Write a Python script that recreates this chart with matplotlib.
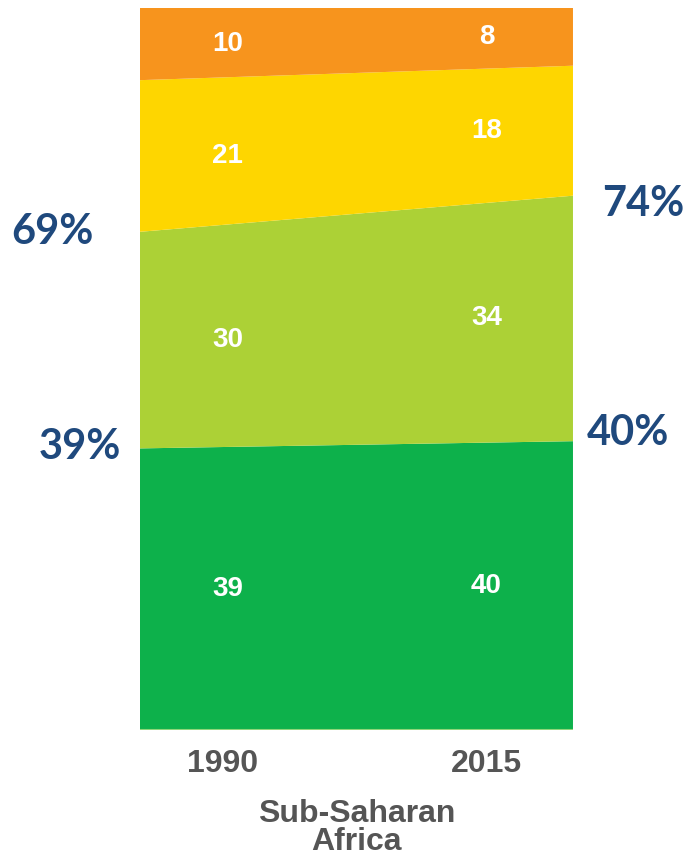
import numpy as np
import matplotlib
matplotlib.use("Agg")
import matplotlib.pyplot as plt

# Data (percent shares, bottom to top)
years = ["1990", "2015"]
band_1990 = [39, 30, 21, 10]
band_2015 = [40, 34, 18, 8]
band_colors = ["#0DB14B", "#ACD136", "#FED600", "#F7941D"]
left_marks = [39, 69]    # cumulative shares labelled at 1990
right_marks = [40, 74]   # cumulative shares labelled at 2015
region = "Sub-Saharan\nAfrica"

x = np.array([0.0, 1.0])
values = np.array([band_1990, band_2015]).T

fig = plt.figure(figsize=(6.9, 8.56), dpi=100)
ax = fig.add_axes([0.2029, 0.1472, 0.6275, 0.8435])

ax.stackplot(x, values, colors=band_colors, linewidth=0)
ax.set_xlim(0, 1)
ax.set_ylim(0, 100)

# light edge under the area
ax.axhline(0, color="#8FD67A", lw=1.5)

for side in ax.spines.values():
    side.set_visible(False)
ax.set_yticks([])
ax.set_xticks([0.19, 0.80])
ax.set_xticklabels(years, fontsize=23, color="#555555", fontweight="bold",
                   family="Liberation Sans")
ax.tick_params(axis="x", length=0, pad=14)
ax.set_xlabel(region, fontsize=23, color="#555555", fontweight="bold",
              family="Liberation Sans", labelpad=14, linespacing=0.9)

# numbers inside the bands
bottoms_l = np.cumsum([0] + band_1990[:-1])
bottoms_r = np.cumsum([0] + band_2015[:-1])
for v, b in zip(band_1990, bottoms_l):
    ax.text(0.203, b + v / 2, str(v), ha="center", va="center", color="white",
            fontsize=20, fontweight="bold", family="Liberation Sans")
for v, b in zip(band_2015, bottoms_r):
    ax.text(0.80, b + v / 2, str(v), ha="center", va="center", color="white",
            fontsize=20, fontweight="bold", family="Liberation Sans")

# cumulative labels outside
pct_style = dict(color="#1F497D", fontsize=30, fontweight="bold",
                 family="Lato", va="center", ha="center", clip_on=False)
ax.text(-0.203, left_marks[1], f"{left_marks[1]}%", **pct_style)
ax.text(-0.139, left_marks[0] + 0.2, f"{left_marks[0]}%", **pct_style)
ax.text(1.162, right_marks[1] - 1.1, f"{right_marks[1]}%", **pct_style)
ax.text(1.127, right_marks[0] + 1.1, f"{right_marks[0]}%", **pct_style)

fig.savefig("out.png", dpi=100, facecolor="white")
